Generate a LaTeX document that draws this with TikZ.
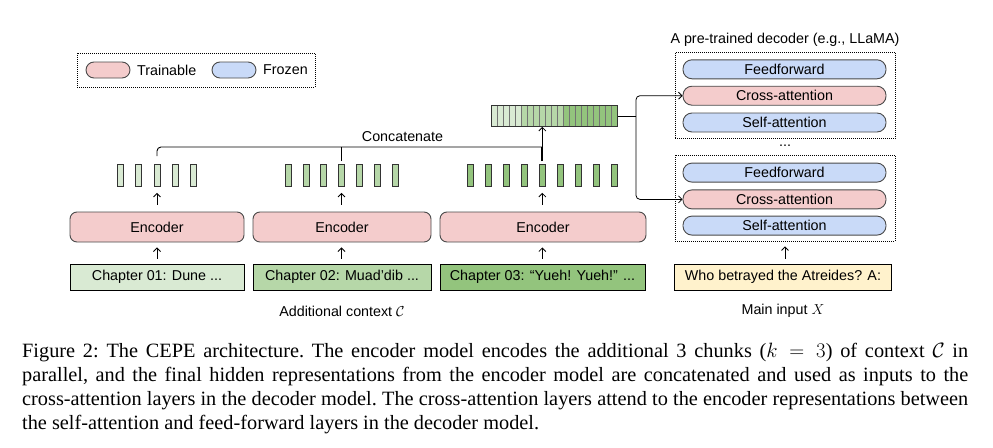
\documentclass[tikz,border=0pt]{standalone}
\usepackage{fontspec}
\setmainfont{Liberation Sans}
\newfontfamily\capfont{Liberation Serif}
\usetikzlibrary{arrows.meta}
\definecolor{pinkf}{HTML}{F4CCCC}
\definecolor{bluef}{HTML}{C9DAF8}
\definecolor{gA}{HTML}{D9EAD3}
\definecolor{gB}{HTML}{B6D7A8}
\definecolor{gC}{HTML}{93C47D}
\definecolor{yel}{HTML}{FFF2CC}
\definecolor{edge}{HTML}{4A4A4A}
\begin{document}
\begin{tikzpicture}[x=1pt,y=-1pt,
  txt/.style={font=\fontsize{14.3}{16}\selectfont, inner sep=0pt},
  pillbox/.style={draw=edge, line width=0.9pt, rounded corners=9pt, minimum width=203pt, minimum height=19pt, inner sep=0pt, font=\fontsize{14.3}{16}\selectfont},
  legpill/.style={draw=edge, line width=0.9pt, rounded corners=8pt, minimum width=44pt, minimum height=16pt, inner sep=0pt},
  encbox/.style={draw=edge, line width=0.9pt, fill=pinkf, rounded corners=7pt, minimum height=30pt, inner sep=0pt, font=\fontsize{14.3}{16}\selectfont},
  chapbox/.style={draw=black, line width=0.9pt, minimum height=26pt, inner sep=0pt, font=\fontsize{14.3}{16}\selectfont},
  dotbox/.style={draw=black, line width=0.8pt, dash pattern=on 1pt off 1pt, inner sep=0pt},
  tok/.style={draw=black!80, line width=0.8pt, minimum width=6pt, minimum height=22pt, inner sep=0pt},
  arr/.style={-{Straight Barb[length=3.5pt,width=7pt]}, line width=0.8pt},
  conn/.style={line width=0.9pt}
]
\useasboundingbox (0,0) rectangle (993,447);

% legend
\node[dotbox, minimum width=238pt, minimum height=34pt] (legend) at (196,70) {};
\node[legpill, fill=pinkf] (lp) at (108,70) {};
\node[txt, anchor=west] (lpt) at (137,70) {Trainable};
\node[legpill, fill=bluef] (lb) at (234,70) {};
\node[txt, anchor=west] (lbt) at (263,70) {Frozen};

% decoder
\node[txt] (dtitle) at (785,40) {A pre-trained decoder (e.g., LLaMA)};
\node[dotbox, minimum width=220pt, minimum height=86pt] (dec1) at (785,95.5) {};
\node[pillbox, fill=bluef] (ff1) at (784.5,69.3) {Feedforward};
\node[pillbox, fill=pinkf] (ca1) at (784.5,95.7) {Cross-attention};
\node[pillbox, fill=bluef] (sa1) at (784.5,122.5) {Self-attention};
\node[txt] (dots) at (785,146) {...};
\node[dotbox, minimum width=220pt, minimum height=86pt] (dec2) at (785,198) {};
\node[pillbox, fill=bluef] (ff2) at (784.5,172.6) {Feedforward};
\node[pillbox, fill=pinkf] (ca2) at (784.5,199.4) {Cross-attention};
\node[pillbox, fill=bluef] (sa2) at (784.5,225.6) {Self-attention};
\node[chapbox, fill=yel, minimum width=217pt] (q) at (783,277) {Who betrayed the Atreides? A:};
\node[txt] (mainin) at (783,311) {Main input $X$};
\draw[arr, shorten <=5pt, shorten >=5pt] (q.north -| dec2.south) -- (dec2.south);

% encoders and chapters
\node[encbox, minimum width=174pt] (enc1) at (157,227) {Encoder};
\node[encbox, minimum width=178pt] (enc2) at (342,227) {Encoder};
\node[encbox, minimum width=206pt] (enc3) at (543,227) {Encoder};
\node[chapbox, fill=gA, minimum width=174pt] (ch1) at (157,277) {Chapter 01: Dune ...};
\node[chapbox, fill=gB, minimum width=178pt] (ch2) at (342,277) {Chapter 02: Muad’dib ...};
\node[chapbox, fill=gC, minimum width=205pt] (ch3) at (542.5,277) {Chapter 03: “Yueh! Yueh!” ...};
\node[txt] (addc) at (342,311) {Additional context $\mathcal{C}$};

% tokens
\foreach \g/\n/\c/\s/\col in {1/5/157/18.3/gA, 2/7/341.5/17.8/gB, 3/9/542.3/17.9/gC} {
  \foreach \i in {1,...,\n} {
    \node[tok, fill=\col] (t\g-\i) at ({\c+(\i-(\n+1)/2)*\s}, 175.5) {};
  }
}
\foreach \k/\m in {1/3,2/4,3/5} {
  \draw[arr, shorten <=7pt, shorten >=6pt] (enc\k.north -| t\k-\m.center) -- (t\k-\m.south);
  \draw[arr, shorten <=5pt, shorten >=5pt] (ch\k.north -| t\k-\m.center) -- (enc\k.south -| t\k-\m.center);
}

% concatenated bar
\foreach \i in {0,...,4} \draw[fill=gA, draw=black!55, line width=0.5pt] ({491.5+6*\i},105.5) rectangle ++(6,21);
\foreach \i in {5,...,11} \draw[fill=gB, draw=black!55, line width=0.5pt] ({491.5+6*\i},105.5) rectangle ++(6,21);
\foreach \i in {12,...,20} \draw[fill=gC, draw=black!55, line width=0.5pt] ({491.5+6*\i},105.5) rectangle ++(6,21);
\node[draw=black!80, line width=0.8pt, minimum width=126pt, minimum height=21pt, inner sep=0pt] (bar) at (554.5,116) {};

% concatenate connector
\coordinate (cL) at (157,147);
\coordinate (cR) at (542.3,147);
\draw[conn, rounded corners=4pt] ([yshift=8pt]t1-3.north) -- (cL) -- (cR);
\draw[line width=1.8pt] ([yshift=3pt]t2-4.north) -- (t2-4.north |- cL);
\draw[line width=1.8pt] ([yshift=3pt]t3-5.north) -- (cR);
\draw[arr] (cR) -- (cR |- bar.south);
\node[txt] (concat) at (402.5,137) {Concatenate};

% bar to decoder
\coordinate (br) at (636,116);
\draw[conn] (bar.east) -- (br);
\draw[arr, rounded corners=4pt] (br) |- (ca1.west);
\draw[arr, rounded corners=4pt] (br) |- (ca2.west);

% caption
\node[anchor=base west, inner sep=0pt] (cap) at (22,357) {\parbox[t]{946pt}{\capfont\fontsize{20.3}{24}\selectfont\frenchspacing\hyphenpenalty=10000\tolerance=10000
Figure 2: The CEPE architecture. The encoder model encodes the additional 3 chunks ($k = 3$) of context $\mathcal{C}$ in\linebreak
parallel, and the final hidden representations from the encoder model are concatenated and used as inputs to the\linebreak
cross-attention layers in the decoder model. The cross-attention layers attend to the encoder representations between\linebreak
the self-attention and feed-forward layers in the decoder model.}};
\end{tikzpicture}
\end{document}
